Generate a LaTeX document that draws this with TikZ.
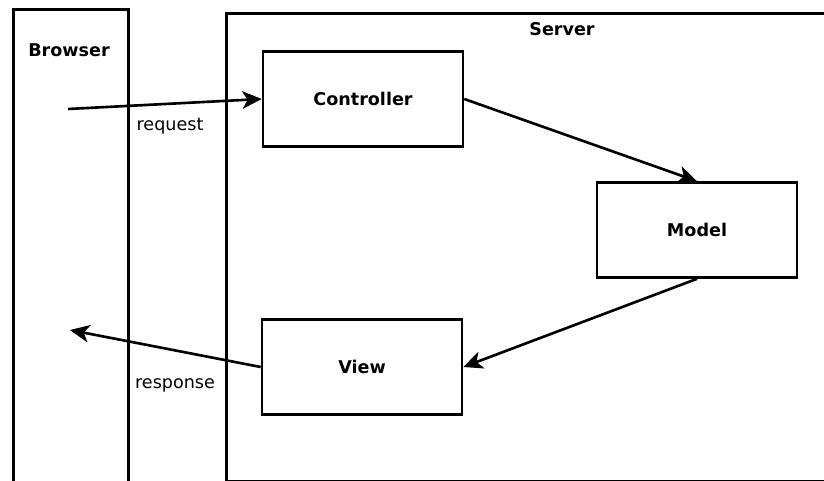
\documentclass[tikz,border=0pt]{standalone}
\usepackage{fontspec}
\setmainfont{DejaVu Sans}
\usetikzlibrary{arrows.meta}
\begin{document}
\begin{tikzpicture}[x=0.02cm, y=-0.02cm, line width=1.5pt,
    part/.style={draw, minimum width=4cm, minimum height=1.9cm, font=\bfseries},
    title/.style={font=\bfseries},
    flow/.style={-{Stealth[length=11pt, width=10pt, inset=3pt]}}]
    \useasboundingbox (0,0) rectangle (824,480);
    \node[draw, anchor=north west, minimum width=2.3cm, minimum height=9.6cm] (browser) at (12,8) {};
    \node[draw, anchor=north west, minimum width=13cm, minimum height=9.36cm] (server) at (225,12) {};
    \node[title] (browsertitle) at (69,50) {Browser};
    \node[title] (servertitle) at (562,29) {Server};
    \node[part] (controller) at (363,99) {Controller};
    \node[part] (model) at (697,230) {Model};
    \node[part] (view) at (362,367) {View};
    \coordinate (reqstart) at (68,109);
    \coordinate (respend) at (70,330);
    \draw[flow] (reqstart) -- (controller.west);
    \node (request) at (170,126) {request};
    \draw[flow] (controller.east) -- (model.north);
    \draw[flow] (model.south) -- (view.east);
    \draw[flow] (view.west) -- (respend);
    \node (response) at (175,385) {response};
\end{tikzpicture}
\end{document}
